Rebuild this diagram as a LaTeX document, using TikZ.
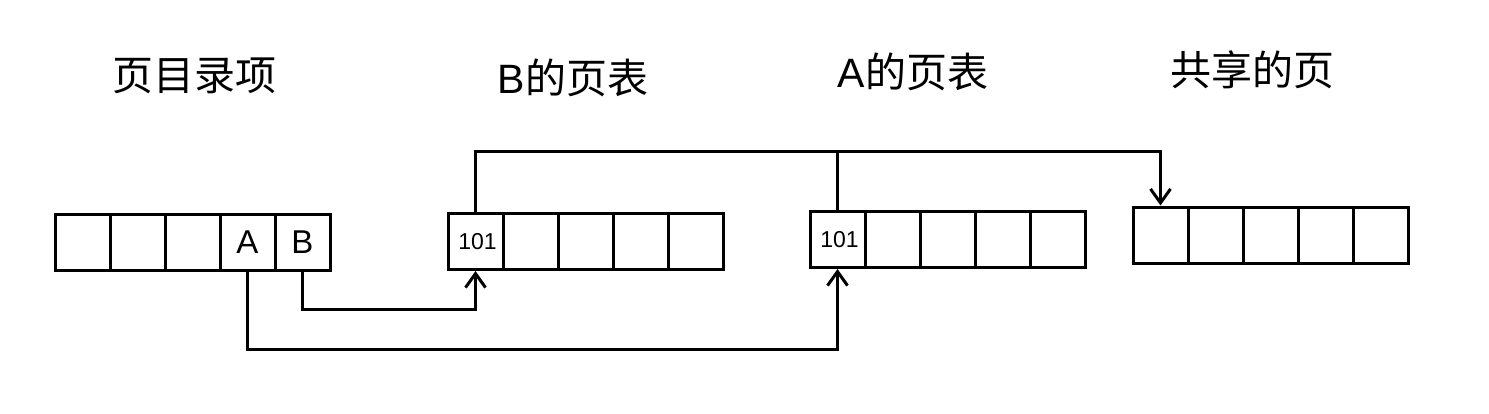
\documentclass[tikz,border=0pt]{standalone}
\usepackage{fontspec}
\setmainfont{Liberation Sans}
\newfontfamily\cjk{Noto Sans CJK SC}
\usetikzlibrary{arrows.meta}

\tikzset{
  cell/.style={draw, line width=3pt, minimum width=55pt, minimum height=56pt,
    inner sep=0pt},
  tag/.style={font=\fontsize{33}{38}\selectfont, inner sep=0pt},
  addr/.style={font=\fontsize{23}{27}\selectfont, inner sep=0pt},
  title/.style={font=\fontsize{41}{48}\selectfont\cjk, inner sep=0pt},
  link/.style={line width=3pt},
  pointer/.style={link, -{Straight Barb[length=14pt, width=20pt, line width=3pt]}}
}

\begin{document}
\begin{tikzpicture}[x=1pt, y=-1pt]
        \useasboundingbox (0,0) rectangle (1489,413);

        % the four rows of cells
        \foreach \i in {1,...,5} {
            \node[cell] (dir\i) at (82.5+55*\i-55, 242) {};
            \node[cell] (b\i) at (475.5+55*\i-55, 241.5) {};
            \node[cell] (a\i) at (837.5+55*\i-55, 239.5) {};
            \node[cell] (s\i) at (1160.5+55*\i-55, 235) {};
        }
        \node[tag] (dirA) at (dir4) {A};
        \node[tag] (dirB) at (dir5) {B};
        \node[addr] (baddr) at ([xshift=2pt]b1) {101};
        \node[addr] (aaddr) at ([xshift=2pt]a1) {101};

        % titles
        \node[title] (dirtitle) at (194, 76) {页目录项};
        \node[title] (btitle) at (573, 78) {{\rmfamily B}的页表};
        \node[title] (atitle) at (913, 72) {{\rmfamily A}的页表};
        \node[title] (stitle) at (1252, 70) {共享的页};

        % pointers
        \coordinate (low) at (0, 349);
        \coordinate (mid) at (0, 309);
        \coordinate (high) at (0, 151);
        \draw[pointer] (dir4.south) |- (a1.south |- low) -- (a1.south);
        \draw[pointer] (dir5.south) |- (b1.south |- mid) -- (b1.south);
        \draw[pointer] (b1.north) |- (s1.north |- high) -- (s1.north);
        \draw[link] (a1.north) -- (a1.north |- high);

\end{tikzpicture}
\end{document}
